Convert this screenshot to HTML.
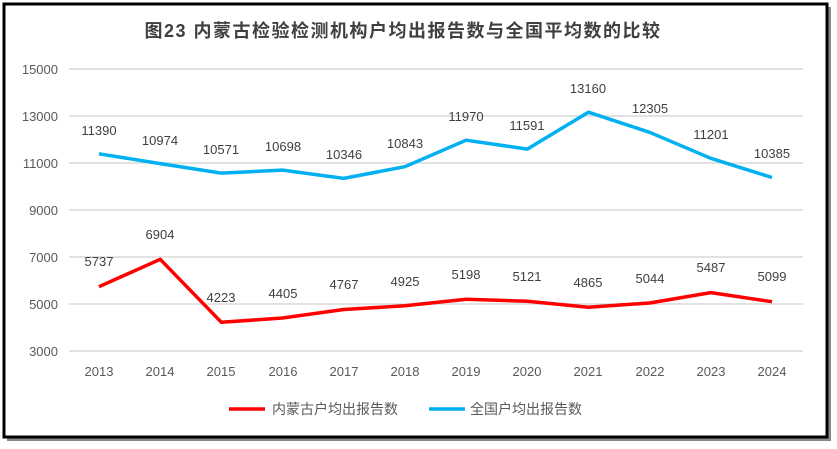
<!DOCTYPE html><html><head><style>body{margin:0;background:#fff}svg{display:block;font-family:"Liberation Sans","Noto Sans CJK SC",sans-serif}</style></head><body>
<svg width="837" height="449" viewBox="0 0 837 449">
<rect x="7" y="7" width="824" height="434" fill="#888"/>
<rect x="4" y="4" width="823" height="433" fill="#fff" stroke="#000" stroke-width="3"/>
<text x="403" y="37" text-anchor="middle" font-size="18" font-weight="bold" letter-spacing="1.5" fill="#404040">图23  内蒙古检验检测机构户均出报告数与全国平均数的比较</text>
<g stroke="#d9d9d9" stroke-width="1.5">
<line x1="69" x2="803" y1="69" y2="69"/><line x1="69" x2="803" y1="116" y2="116"/><line x1="69" x2="803" y1="163" y2="163"/><line x1="69" x2="803" y1="210" y2="210"/><line x1="69" x2="803" y1="257" y2="257"/><line x1="69" x2="803" y1="304" y2="304"/><line x1="69" x2="803" y1="351" y2="351"/></g>
<g font-size="13" fill="#595959" text-anchor="end">
<text x="58" y="74">15000</text><text x="58" y="121">13000</text><text x="58" y="168">11000</text><text x="58" y="215">9000</text><text x="58" y="262">7000</text><text x="58" y="309">5000</text><text x="58" y="356">3000</text></g>
<g font-size="13" fill="#595959" text-anchor="middle">
<text x="99" y="376">2013</text><text x="160" y="376">2014</text><text x="221" y="376">2015</text><text x="283" y="376">2016</text><text x="344" y="376">2017</text><text x="405" y="376">2018</text><text x="466" y="376">2019</text><text x="527" y="376">2020</text><text x="588" y="376">2021</text><text x="650" y="376">2022</text><text x="711" y="376">2023</text><text x="772" y="376">2024</text></g>
<polyline fill="none" stroke="#00b0f0" stroke-width="3.5" stroke-linejoin="round" points="99,153.8 160.2,163.6 221.4,173.1 282.5,170.1 343.7,178.4 404.9,166.7 466.1,140.2 527.3,149.1 588.4,112.2 649.6,132.3 710.8,158.3 772,177.5"/>
<polyline fill="none" stroke="#ff0000" stroke-width="3.5" stroke-linejoin="round" points="99,286.7 160.2,259.3 221.4,322.3 282.5,318 343.7,309.5 404.9,305.8 466.1,299.3 527.3,301.2 588.4,307.2 649.6,303 710.8,292.6 772,301.7"/>
<g font-size="13" fill="#404040" text-anchor="middle">
<text x="99" y="135">11390</text><text x="160" y="145">10974</text><text x="221" y="154">10571</text><text x="283" y="151">10698</text><text x="344" y="159">10346</text><text x="405" y="148">10843</text><text x="466" y="121">11970</text><text x="527" y="130">11591</text><text x="588" y="93">13160</text><text x="650" y="113">12305</text><text x="711" y="139">11201</text><text x="772" y="158">10385</text>
<text x="99" y="266">5737</text><text x="160" y="239">6904</text><text x="221" y="302">4223</text><text x="283" y="298">4405</text><text x="344" y="289">4767</text><text x="405" y="286">4925</text><text x="466" y="279">5198</text><text x="527" y="281">5121</text><text x="588" y="287">4865</text><text x="650" y="283">5044</text><text x="711" y="272">5487</text><text x="772" y="281">5099</text></g>
<line x1="229" x2="265" y1="409" y2="409" stroke="#ff0000" stroke-width="3.5"/>
<text x="272" y="414" font-size="14" fill="#595959">内蒙古户均出报告数</text>
<line x1="429" x2="465" y1="409" y2="409" stroke="#00b0f0" stroke-width="3.5"/>
<text x="470" y="414" font-size="14" fill="#595959">全国户均出报告数</text>
</svg></body></html>
